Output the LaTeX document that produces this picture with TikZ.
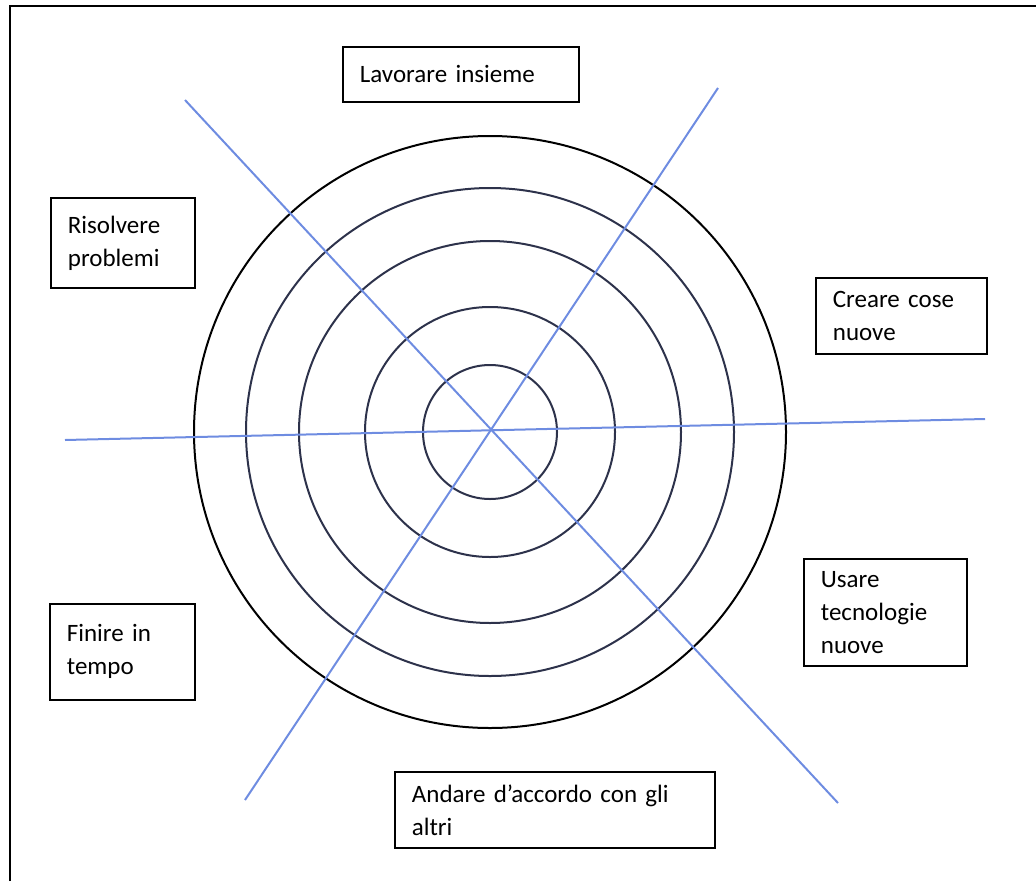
\documentclass[tikz,border=0pt]{standalone}
\usepackage{fontspec}
\setmainfont{Carlito}
\usepackage{xcolor}
\usetikzlibrary{positioning}

\definecolor{spoke}{RGB}{110,140,225}
\definecolor{ring}{RGB}{45,50,75}

\begin{document}
\begin{tikzpicture}[x=1pt,y=-1pt,line width=2pt]

			\tikzstyle{area} = [draw,line width=1.8pt,anchor=north west,align=left,inner xsep=17pt,inner ysep=0pt,font=\fontsize{25}{33}\selectfont]

			\useasboundingbox (0,0) rectangle (1036,881);

			% frame
			\draw[line width=2.8pt] (10,881) -- (10,6) -- (1036,6);

			% rings
			\coordinate (C) at (490,432);
			\draw[ring] (C) circle (67);
			\draw[ring] (C) circle (125);
			\draw[ring] (C) circle (191);
			\draw[ring] (C) circle (244);
			\draw[black] (C) circle (296);

			% spokes
			\draw[spoke] (185,100) -- (838,803);
			\draw[spoke] (718,88) -- (245,800);
			\draw[spoke] (65,440) -- (985,419);

			% labels
			\node[area,minimum width=236pt,minimum height=55pt,text width=202pt] (lavorare) at (342,46) {Lavorare insieme};
			\node[area,minimum width=144pt,minimum height=90pt,text width=110pt] (risolvere) at (50,197) {Risolvere\\problemi};
			\node[area,minimum width=171pt,minimum height=76pt,text width=137pt] (creare) at (815,277) {Creare cose\\nuove};
			\node[area,minimum width=163pt,minimum height=107pt,text width=129pt] (usare) at (803,558) {Usare\\tecnologie\\nuove};
			\node[area,minimum width=145pt,minimum height=96pt,text width=111pt] (finire) at (49,603) {Finire in\\tempo};
			\node[area,minimum width=320pt,minimum height=76pt,text width=286pt] (andare) at (394,771) {Andare d’accordo con gli\\altri};

\end{tikzpicture}
\end{document}
